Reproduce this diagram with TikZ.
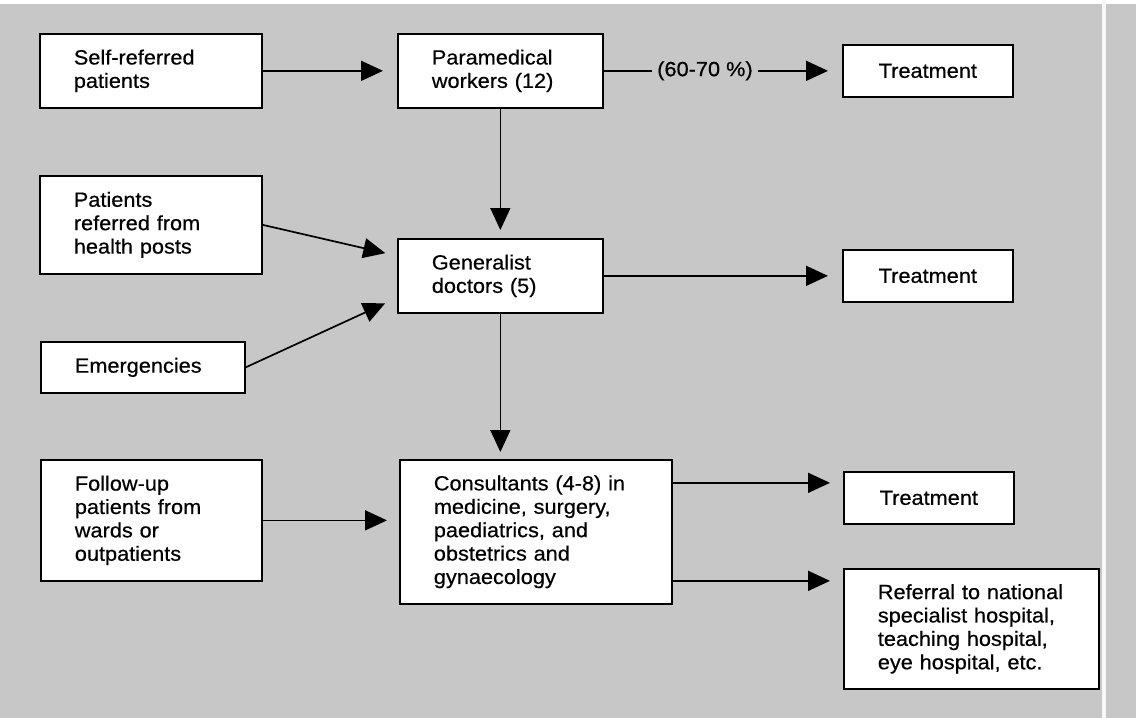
\documentclass[tikz,border=0pt]{standalone}
\usepackage{fontspec}
\setmainfont{Liberation Sans}[FakeStretch=1.06,FakeBold=0.5]
\usetikzlibrary{arrows.meta,calc}
\definecolor{bg}{gray}{0.78}
\newcommand{\myln}[1]{\mbox{#1}}
\begin{document}
\begin{tikzpicture}[x=1pt,y=-1pt,
  font=\fontsize{20.5}{23.4}\selectfont,
  box/.style={draw, fill=white, line width=1.7pt, anchor=north west,
    inner ysep=0pt, inner xsep=34pt, align=left},
  cbox/.style={draw, fill=white, line width=1.7pt, anchor=north west,
    inner sep=0pt, align=center},
  arr/.style={line width=1.7pt, -{Triangle[length=22pt,width=20pt]}}]
\useasboundingbox (0,0) rectangle (1136,718);
\fill[bg] (0,0) rectangle (1136,718);
\fill[white] (0,0) rectangle (1136,4);
\fill[white!85!bg] (1102,0) rectangle (1106,718);

\node[box, text width=154pt, minimum height=74pt] (self) at (39,33) {\myln{Self-referred}\\\myln{patients}};
\node[box, text width=137pt, minimum height=74pt] (para) at (397,33) {\myln{Paramedical}\\\myln{workers (12)}};
\node[cbox, minimum width=170pt, minimum height=52pt] (treat1) at (842,44) {Treatment};

\node[box, text width=154pt, minimum height=98pt] (pref) at (39,175) {\myln{Patients}\\\myln{referred from}\\\myln{health posts}};
\node[box, text width=137pt, minimum height=74pt] (gen) at (397,238) {\myln{Generalist}\\\myln{doctors (5)}};
\node[cbox, minimum width=170pt, minimum height=52pt] (treat2) at (842,249) {Treatment};

\node[box, text width=136pt, minimum height=51pt] (emerg) at (40,341) {\myln{Emergencies}};

\node[box, text width=153pt, minimum height=121pt] (follow) at (40,459) {\myln{Follow-up}\\\myln{patients from}\\\myln{wards or}\\\myln{outpatients}};
\node[box, text width=204pt, minimum height=144pt] (cons) at (399,459) {\myln{Consultants (4-8) in}\\\myln{medicine, surgery,}\\\myln{paediatrics, and}\\\myln{obstetrics and}\\\myln{gynaecology}};
\node[cbox, minimum width=170pt, minimum height=52pt] (treat3) at (843,471) {Treatment};
\node[box, text width=187pt, minimum height=120pt] (ref) at (843,568) {\myln{Referral to national}\\\myln{specialist hospital,}\\\myln{teaching hospital,}\\\myln{eye hospital, etc.}};

\coordinate (c1) at ([yshift=49pt]cons.east);
\coordinate (c2) at ([yshift=-49pt]cons.east);

\draw[arr, shorten >=14pt] (self) -- (para);
\draw[arr, shorten >=14pt] (para) -- node[pos=0.425, fill=bg, inner xsep=5pt, inner ysep=1pt] {(60-70 \%)} (treat1);
\draw[arr, shorten >=8pt] (para) -- (gen);
\draw[arr, shorten >=12pt] (pref.east) -- ([yshift=20pt]gen.west);
\draw[arr, shorten >=13pt] (emerg.east) -- ([yshift=-22pt]gen.west);
\draw[arr, shorten >=14pt] (gen) -- (treat2);
\draw[arr, shorten >=7pt] (gen.south) -- (gen.south |- cons.north);
\draw[arr, shorten >=12pt] (follow.east) -- (follow.east -| cons.west);
\draw[arr, shorten >=13pt] (c1) -- (c1 -| treat3.west);
\draw[arr, shorten >=13pt] (c2) -- (c2 -| ref.west);
\end{tikzpicture}
\end{document}
